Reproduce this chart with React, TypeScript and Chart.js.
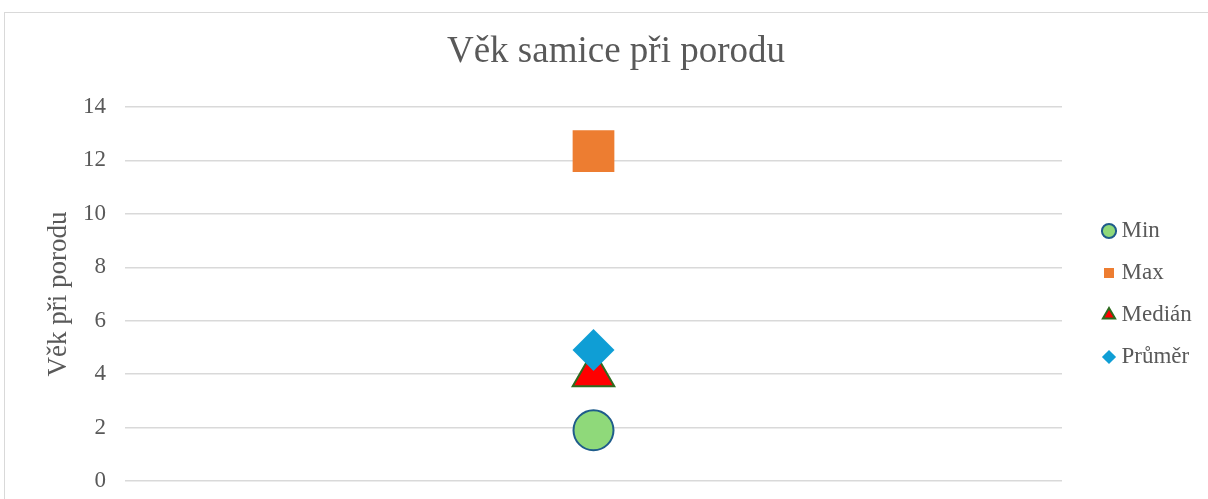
import { useEffect, useRef } from 'react';
import { Chart, registerables } from 'chart.js';

Chart.register(...registerables);

const categories = [''];
const chartTitle = 'Věk samice při porodu';
const yAxisTitle = 'Věk při porodu';
const seriesNames = ['Min', 'Max', 'Medián', 'Průměr'];
const minValues = [1.9];
const maxValues = [12.35];
const medianValues = [4];
const meanValues = [4.9];
const yTicks = [0, 2, 4, 6, 8, 10, 12, 14];

const FONT = "'Liberation Serif', 'Times New Roman', serif";
const TEXT = '#595959';
const CANVAS_W = 1222;
const CANVAS_H = 520;

const tweaks = {
  id: 'tweaks',
  afterLayout(chart: any) {
    const t = chart.titleBlock;
    if (t) {
      t.left = 0;
      t.right = chart.width;
      t.width = chart.width;
    }
    const l = chart.legend;
    if (l) {
      l.left = 1084;
      l.right = 1084 + 140;
      l.width = 140;
      l.top = 187.5;
      l.bottom = 187.5 + 260;
      l.height = 260;
    }
  },
};

export default function App() {
  const ref = useRef<HTMLCanvasElement | null>(null);

  useEffect(() => {
    if (!ref.current) return;
    const mk = (
      label: string,
      data: number[],
      style: string,
      radius: number,
      bg: string,
      border: string,
      bw: number,
      order: number
    ) => ({
      label,
      data,
      showLine: false,
      pointStyle: style,
      pointRadius: radius,
      pointHoverRadius: radius,
      pointBackgroundColor: bg,
      pointBorderColor: border,
      pointBorderWidth: bw,
      backgroundColor: bg,
      borderColor: border,
      borderWidth: bw,
      order,
      clip: false as any,
    });

    const chart = new Chart(ref.current, {
      type: 'line',
      data: {
        labels: categories,
        datasets: [
          mk(seriesNames[0], minValues, 'circle', 20, '#8FD97A', '#1F5C8B', 2, 3),
          mk(seriesNames[1], maxValues, 'rect', 29.5, '#ED7D31', '#ED7D31', 0, 2),
          mk(seriesNames[2], medianValues, 'triangle', 24, '#FF0000', '#2E6B1F', 2, 1),
          mk(seriesNames[3], meanValues, 'rectRot', 21, '#0F9ED5', '#0F9ED5', 0, 0),
        ] as any,
      },
      options: {
        responsive: false,
        animation: false,
        events: [],
        layout: { padding: { left: 0, right: 165, top: 0, bottom: 52 } },
        plugins: {
          tooltip: { enabled: false },
          title: {
            display: true,
            text: chartTitle,
            color: TEXT,
            font: { family: FONT, size: 37, weight: 'normal' },
            padding: { top: 16.8, bottom: 32.8 },
          },
          legend: {
            position: 'chartArea',
            align: 'start',
            labels: {
              usePointStyle: true,
              boxWidth: 2,
              boxHeight: 10,
              padding: 19,
              color: TEXT,
              font: { family: FONT, size: 23 },
              sort: (a: any, b: any) => a.datasetIndex - b.datasetIndex,
            },
          },
        },
        scales: {
          x: {
            type: 'category',
            display: false,
            offset: true,
          },
          y: {
            min: 0,
            max: 14,
            afterBuildTicks: (s: any) => {
              s.ticks = yTicks.map((v) => ({ value: v }));
            },
            afterFit: (s: any) => {
              s.width = 120;
            },
            border: { display: false },
            grid: { color: '#d9d9d9', lineWidth: 1.5, drawTicks: false },
            ticks: {
              padding: 19,
              color: TEXT,
              font: { family: FONT, size: 23 },
            },
            title: {
              display: true,
              text: yAxisTitle,
              color: TEXT,
              font: { family: FONT, size: 27 },
              padding: { top: 37.5, bottom: 0 },
            },
          },
        },
      } as any,
      plugins: [tweaks],
    });
    return () => chart.destroy();
  }, []);

  return (
    <div
      style={{
        position: 'fixed',
        left: 0,
        top: 0,
        width: 1208,
        height: 499,
        overflow: 'hidden',
        background: '#fff',
      }}
    >
      <div
        style={{
          position: 'absolute',
          left: 4,
          top: 12,
          width: 1240,
          height: 540,
          border: '1px solid #d9d9d9',
          boxSizing: 'border-box',
        }}
      />
      <canvas
        ref={ref}
        width={CANVAS_W}
        height={CANVAS_H}
        style={{ position: 'absolute', left: 5, top: 13 }}
      />
    </div>
  );
}
